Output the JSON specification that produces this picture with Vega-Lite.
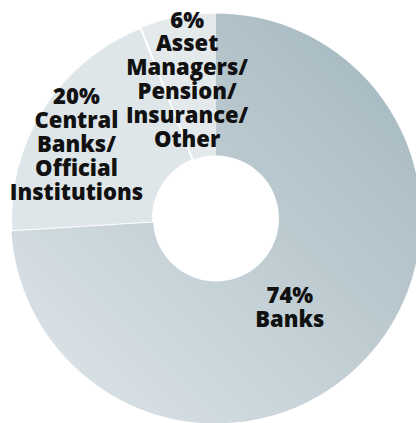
{
  "$schema": "https://vega.github.io/schema/vega-lite/v6.json",
  "width": 432,
  "height": 437,
  "padding": 0,
  "autosize": "none",
  "background": "white",
  "view": {"stroke": null},
  "data": {"values": [
    {"seg": "Banks", "value": 74, "label": "74%\nBanks"},
    {"seg": "Central Banks/Official Institutions", "value": 20, "label": "20%\nCentral\nBanks/\nOfficial\nInstitutions"},
    {"seg": "Asset Managers/Pension/Insurance/Other", "value": 6, "label": "6%\nAsset\nManagers/\nPension/\nInsurance/\nOther"}
  ]},
  "transform": [
    {"stack": "value", "groupby": [], "sort": [{"field": "value", "order": "descending"}], "as": ["v0", "v1"]},
    {"calculate": "(datum.v0 + datum.v1) / 2", "as": "mid"}
  ],
  "layer": [
    {
      "transform": [{"filter": "datum.seg !== 'Banks'"}],
      "mark": {"type": "arc", "radius": 205, "radius2": 63},
      "encoding": {
        "theta": {"field": "v0", "type": "quantitative", "scale": {"domain": [0, 100]}},
        "theta2": {"field": "v1"},
        "color": {"field": "seg", "type": "nominal", "legend": null,
          "scale": {"domain": ["Central Banks/Official Institutions", "Asset Managers/Pension/Insurance/Other"], "range": ["#dfe6ea", "#e4e9ec"]}}
      }
    },
    {
      "transform": [{"filter": "datum.seg === 'Central Banks/Official Institutions'"}],
      "mark": {"type": "arc", "radius": 205, "radius2": 63, "fillOpacity": 0, "stroke": "white", "strokeWidth": 2},
      "encoding": {
        "theta": {"field": "v0", "type": "quantitative", "scale": {"domain": [0, 100]}},
        "theta2": {"field": "v1"}
      }
    },
    {
      "transform": [{"filter": "datum.seg === 'Banks'"}],
      "mark": {"type": "arc", "radius": 205, "radius2": 63,
        "color": {"gradient": "linear", "x1": 1, "y1": 0, "x2": 0, "y2": 1,
          "stops": [{"offset": 0, "color": "#a1b5bd"}, {"offset": 1, "color": "#e0e7ea"}]}},
      "encoding": {
        "theta": {"field": "v0", "type": "quantitative", "scale": {"domain": [0, 100]}},
        "theta2": {"field": "v1"}
      }
    },
    {
      "transform": [{"filter": "datum.seg === 'Banks'"}],
      "mark": {"type": "text", "radius": 115, "dx": -10, "dy": -1, "font": "Open Sans", "fontWeight": 800, "fontSize": 22, "lineHeight": 23.5, "lineBreak": "\n", "align": "center", "baseline": "middle", "color": "#111111"},
      "encoding": {
        "theta": {"field": "mid", "type": "quantitative", "scale": {"domain": [0, 100]}},
        "text": {"field": "label"}
      }
    },
    {
      "transform": [{"filter": "datum.seg === 'Central Banks/Official Institutions'"}],
      "mark": {"type": "text", "radius": 157, "dx": -7, "dy": -37, "font": "Open Sans", "fontWeight": 800, "fontSize": 22, "lineHeight": 23.8, "lineBreak": "\n", "align": "center", "baseline": "middle", "color": "#111111"},
      "encoding": {
        "theta": {"field": "mid", "type": "quantitative", "scale": {"domain": [0, 100]}},
        "text": {"field": "label"}
      }
    },
    {
      "transform": [{"filter": "datum.seg === 'Asset Managers/Pension/Insurance/Other'"}],
      "mark": {"type": "text", "radius": 143.5, "dx": -2, "dy": -57, "font": "Open Sans", "fontWeight": 800, "fontSize": 22, "lineHeight": 23.8, "lineBreak": "\n", "align": "center", "baseline": "middle", "color": "#111111"},
      "encoding": {
        "theta": {"field": "mid", "type": "quantitative", "scale": {"domain": [0, 100]}},
        "text": {"field": "label"}
      }
    }
  ]
}
